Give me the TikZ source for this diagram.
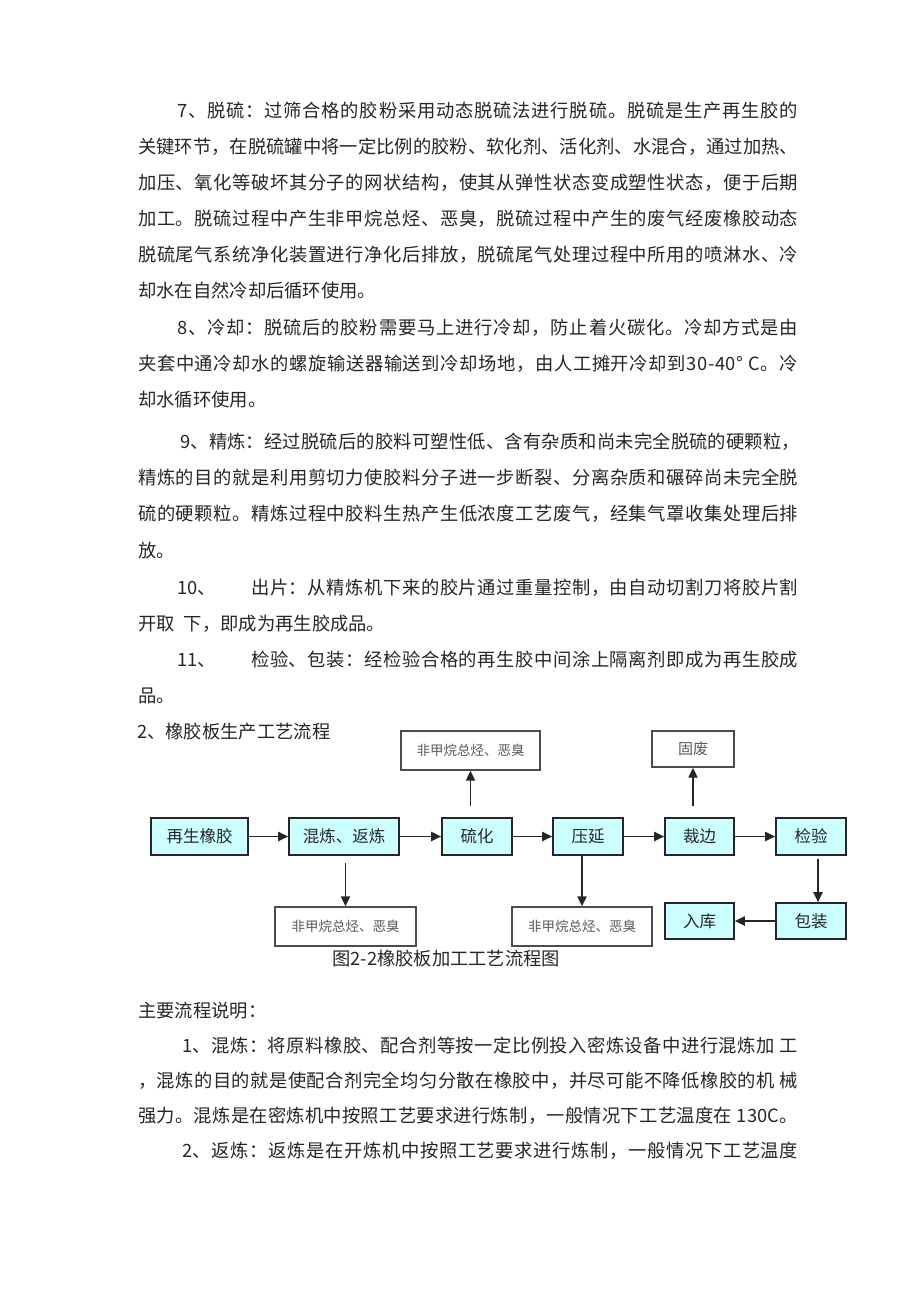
\documentclass[tikz,border=0pt]{standalone}
\usepackage{fontspec}
\setmainfont{Noto Sans CJK SC}
\usetikzlibrary{arrows.meta}
\definecolor{procfill}{RGB}{204,255,255}
\ExplSyntaxOn
\cs_new:Npn \myspread #1 { \tl_map_inline:nn {#1} { ##1 \hskip 0pt plus 1fil } \hskip 0pt plus -1fil }
\ExplSyntaxOff
\newcommand\jl[2]{\makebox[#1][s]{\myspread{#2}}}
\begin{document}
\begin{tikzpicture}[x=1pt,y=-1pt,
  txt/.style={anchor=base west, inner sep=0pt, font=\fontsize{18.3}{20}\selectfont, text=black!85},
  proc/.style={draw=black!85, line width=1.6pt, fill=procfill, minimum height=37pt, inner sep=0pt, font=\fontsize{16.5}{16}\selectfont, text=black!85},
  outbox/.style={draw=black!70, line width=1.3pt, fill=white, minimum height=39pt, inner sep=0pt, font=\fontsize{13.5}{14}\selectfont, text=black!65},
  arr/.style={-{Triangle[length=10pt,width=9pt]}, line width=1.9pt, draw=black!85}]
\useasboundingbox[fill=white] (0,0) rectangle (920,1302);

% paragraph 7
\node[txt] (p7a) at (177,117) {\jl{621pt}{7、脱硫：过筛合格的胶粉采用动态脱硫法进行脱硫。脱硫是生产再生胶的}};
\node[txt] (p7b) at (138,153) {\jl{660pt}{关键环节，在脱硫罐中将一定比例的胶粉、软化剂、活化剂、水混合，通过加热、}};
\node[txt] (p7c) at (138,189) {\jl{660pt}{加压、氧化等破坏其分子的网状结构，使其从弹性状态变成塑性状态，便于后期}};
\node[txt] (p7d) at (138,225) {\jl{660pt}{加工。脱硫过程中产生非甲烷总烃、恶臭，脱硫过程中产生的废气经废橡胶动态}};
\node[txt] (p7e) at (138,261) {\jl{660pt}{脱硫尾气系统净化装置进行净化后排放，脱硫尾气处理过程中所用的喷淋水、冷}};
\node[txt] (p7f) at (138,297) {却水在自然冷却后循环使用。};

% paragraph 8
\node[txt] (p8a) at (177,334) {\jl{621pt}{8、冷却：脱硫后的胶粉需要马上进行冷却，防止着火碳化。冷却方式是由}};
\node[txt] (p8b) at (138,370) {\jl{660pt}{夹套中通冷却水的螺旋输送器输送到冷却场地，由人工摊开冷却到30-40°{\ }C。冷}};
\node[txt] (p8c) at (138,406) {却水循环使用。};

% paragraph 9
\node[txt] (p9a) at (180,448) {\jl{620pt}{9、精炼：经过脱硫后的胶料可塑性低、含有杂质和尚未完全脱硫的硬颗粒，}};
\node[txt] (p9b) at (138,484) {\jl{660pt}{精炼的目的就是利用剪切力使胶料分子进一步断裂、分离杂质和碾碎尚未完全脱}};
\node[txt] (p9c) at (138,520) {\jl{660pt}{硫的硬颗粒。精炼过程中胶料生热产生低浓度工艺废气，经集气罩收集处理后排}};
\node[txt] (p9d) at (138,557) {放。};

% paragraph 10
\node[txt] (p10n) at (177,594) {10、};
\node[txt] (p10a) at (251,594) {\jl{547pt}{出片：从精炼机下来的胶片通过重量控制，由自动切割刀将胶片割}};
\node[txt] (p10b) at (138,630) {开取\hspace{0.5em}下，即成为再生胶成品。};

% paragraph 11
\node[txt] (p11n) at (177,666) {11、};
\node[txt] (p11a) at (251,666) {\jl{547pt}{检验、包装：经检验合格的再生胶中间涂上隔离剂即成为再生胶成}};
\node[txt] (p11b) at (138,702) {品。};

% title
\node[txt] (title) at (137,738) {2、橡胶板生产工艺流程};

% diagram
\node[proc, minimum width=97pt] (regen) at (199.5,836.5) {再生橡胶};
\node[proc, minimum width=110pt] (mix) at (344,836.5) {混炼、返炼};
\node[proc, minimum width=70pt] (vulc) at (477,836.5) {硫化};
\node[proc, minimum width=70pt] (cal) at (588,836.5) {压延};
\node[proc, minimum width=69pt] (trim) at (699.5,836.5) {裁边};
\node[proc, minimum width=70pt] (insp) at (811,836.5) {检验};
\node[proc, minimum width=70pt, minimum height=36pt] (pack) at (811,921) {包装};
\node[proc, minimum width=69pt, minimum height=36pt] (store) at (699.5,921) {入库};

\node[outbox, minimum width=139pt] (out1) at (470.5,750.5) {非甲烷总烃、恶臭};
\node[outbox, minimum width=82pt, minimum height=36pt, font=\fontsize{15}{15}\selectfont] (waste) at (693,749) {固废};
\node[outbox, minimum width=141pt] (out2) at (345.5,926.5) {非甲烷总烃、恶臭};
\node[outbox, minimum width=140pt] (out3) at (582,926.5) {非甲烷总烃、恶臭};

\draw[arr] (regen.east) -- (mix.west);
\draw[arr] (mix.east) -- (vulc.west);
\draw[arr] (vulc.east) -- (cal.west);
\draw[arr] (cal.east) -- (trim.west);
\draw[arr] (trim.east) -- (insp.west);
\draw[arr, shorten <=11pt] (vulc.north -| out1.south) -- (out1.south);
\draw[arr, shorten <=11pt] (trim.north -| waste.south) -- (waste.south);
\draw[arr, shorten <=7pt] (mix.south -| out2.north) -- (out2.north);
\draw[arr] (cal.south -| out3.north) -- (out3.north);
\draw[arr, shorten <=3pt] ([xshift=7pt]insp.south) -- ([xshift=7pt]pack.north);
\draw[arr] (pack.west) -- (store.east);

% caption
\node[txt] (caption) at (332,965) {图2-2橡胶板加工工艺流程图};

% explanation
\node[txt] (m0) at (138,1017) {主要流程说明：};
\node[txt] (m1a) at (182,1052) {\jl{616pt}{1、混炼：将原料橡胶、配合剂等按一定比例投入密炼设备中进行混炼加{\ }工}};
\node[txt] (m1b) at (138,1087) {\jl{660pt}{，混炼的目的就是使配合剂完全均匀分散在橡胶中，并尽可能不降低橡胶的机{\ }械}};
\node[txt] (m1c) at (138,1122) {\jl{660pt}{强力。混炼是在密炼机中按照工艺要求进行炼制，一般情况下工艺温度在{\ }130C。}};
\node[txt] (m2a) at (182,1157) {\jl{616pt}{2、返炼：返炼是在开炼机中按照工艺要求进行炼制，一般情况下工艺温度}};
\end{tikzpicture}
\end{document}
